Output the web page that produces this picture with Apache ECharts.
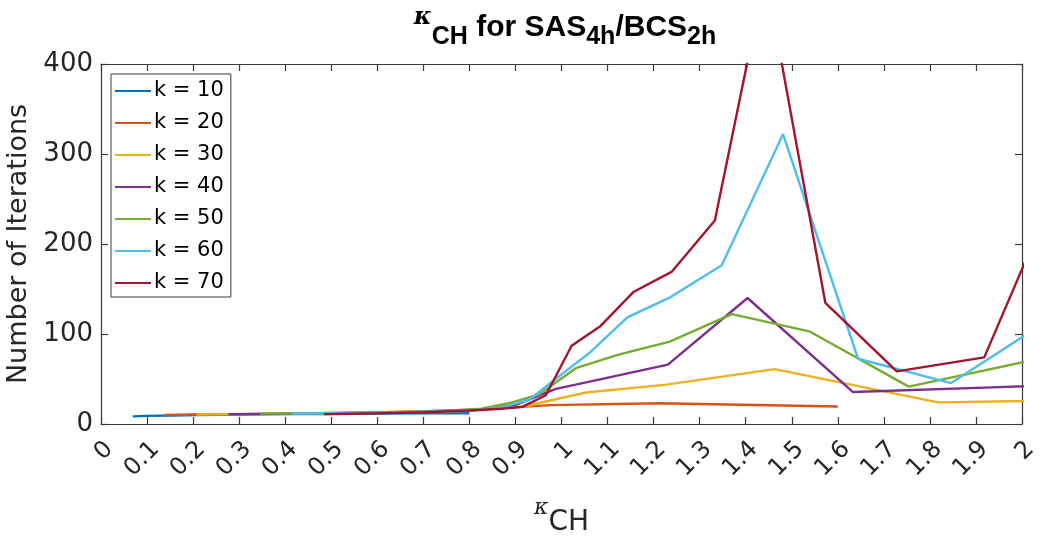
<!DOCTYPE html>
<html>
<head>
<meta charset="utf-8">
<script src="https://cdn.jsdelivr.net/npm/echarts@6/dist/echarts.min.js"></script>
<style>
  html, body { margin: 0; padding: 0; background: #ffffff; }
  #chart { width: 1043px; height: 536px; }
</style>
</head>
<body>
<div id="chart"></div>
<script>
// Iteration counts against kappa_CH, one line per k.
const seriesNames = ['k = 10', 'k = 20', 'k = 30', 'k = 40', 'k = 50', 'k = 60', 'k = 70'];

const x10 = [0.069, 0.099, 0.155, 0.206, 0.308, 0.408, 0.488, 0.606, 0.700, 0.800];
const y10 = [8.5, 9, 9.5, 10, 10.5, 11, 11, 11.5, 11.8, 12];

const x20 = [0.138, 0.200, 0.300, 0.400, 0.494, 0.615, 0.702, 0.816, 0.976, 1.212, 1.600];
const y20 = [10, 10.5, 11, 11.5, 12, 13, 14, 16, 21, 23, 19.5];

const x30 = [0.208, 0.300, 0.400, 0.496, 0.619, 0.741, 0.822, 0.923, 1.053, 1.224, 1.463, 1.818, 2.400];
const y30 = [10.5, 11, 11.5, 12, 13, 14, 15.5, 20, 35, 43.5, 61, 24, 29];

const x40 = [0.277, 0.350, 0.450, 0.552, 0.661, 0.762, 0.825, 0.899, 0.988, 1.096, 1.231, 1.404, 1.633, 1.951, 2.424];
const y40 = [11, 11.3, 11.7, 12.3, 13, 14.5, 16, 21, 39, 51, 66, 140, 35.5, 41, 49];

const x50 = [0.346, 0.450, 0.550, 0.621, 0.690, 0.775, 0.826, 0.885, 0.952, 1.031, 1.124, 1.235, 1.370, 1.538, 1.754, 2.041];
const y50 = [11.5, 12, 12.5, 13, 14, 15.5, 17, 23, 33, 62, 77, 91.5, 122, 103, 41.5, 73];

const x60 = [0.415, 0.500, 0.600, 0.700, 0.784, 0.828, 0.876, 0.930, 0.992, 1.062, 1.143, 1.237, 1.348, 1.481, 1.644, 1.846, 2.105];
const y60 = [11.5, 12, 12.5, 13.5, 14.5, 16, 19, 27, 52, 79.5, 118.5, 141, 176.5, 322, 72.5, 45.5, 131];

const x70 = [0.484, 0.600, 0.700, 0.800, 0.870, 0.915, 0.966, 1.022, 1.085, 1.157, 1.239, 1.333, 1.443, 1.573, 1.728, 1.918, 2.188];
const y70 = [11, 12, 13, 15, 17, 19, 32, 87, 109, 147, 169, 226, 500, 134.5, 58.5, 74, 397];

const xs = [x10, x20, x30, x40, x50, x60, x70];
const ys = [y10, y20, y30, y40, y50, y60, y70];

// MATLAB default line colour order
const lineColors = ['#0072BD', '#D95319', '#EDB120', '#7E2F8E', '#77AC30', '#4DBEEE', '#A2142F'];

const axisColor = '#262626';
const frameColor = '#3a3a3a';
const tickFont = 'DejaVu Sans';

const chart = echarts.init(document.getElementById('chart'), null, { renderer: 'canvas' });

const series = seriesNames.map((name, i) => ({
  name: name,
  type: 'line',
  data: xs[i].map((v, j) => [v, ys[i][j]]),
  showSymbol: false,
  symbol: 'none',
  clip: true,
  lineStyle: { width: 2.4, color: lineColors[i] },
  itemStyle: { color: lineColors[i] },
  emphasis: { disabled: true },
  animation: false
}));

const fmtX = v => String(Math.round(v * 10) / 10);

const frameAxisLine = { show: true, onZero: false, lineStyle: { color: frameColor, width: 1.2 } };
const frameTicks = { show: true, inside: true, length: 7, lineStyle: { color: frameColor, width: 1.2 } };

chart.setOption({
  animation: false,
  title: {
    text: '{k|κ}{s|CH}{m| for SAS}{s|4h}{m|/BCS}{s|2h}',
    left: 560,
    top: 1,
    textAlign: 'center',
    textStyle: {
      rich: {
        k: { fontFamily: 'DejaVu Serif', fontStyle: 'italic', fontSize: 24, color: '#000', lineHeight: 34, verticalAlign: 'top' },
        m: { fontFamily: 'Liberation Sans', fontWeight: 'bold', fontSize: 30, color: '#000', lineHeight: 44, verticalAlign: 'middle' },
        s: { fontFamily: 'Liberation Sans', fontWeight: 'bold', fontSize: 25, color: '#000', lineHeight: 25, verticalAlign: 'bottom' }
      }
    }
  },
  legend: {
    orient: 'vertical',
    left: 111,
    top: 74,
    data: seriesNames,
    icon: 'rect',
    itemWidth: 36,
    itemHeight: 2,
    itemGap: 10,
    padding: [6, 7, 3, 4],
    backgroundColor: '#ffffff',
    borderColor: frameColor,
    borderWidth: 1,
    borderRadius: 0,
    textStyle: { fontFamily: tickFont, fontSize: 21, color: '#000', padding: [0, 0, 0, -2], lineHeight: 22 }
  },
  grid: { left: 101, top: 64, width: 921, height: 360, containLabel: false, outerBoundsMode: 'none' },
  xAxis: [
    {
      type: 'value', min: 0, max: 2, interval: 0.1,
      name: '{k|κ}{s|CH}',
      nameLocation: 'middle',
      nameGap: 73,
      nameTextStyle: {
        rich: {
          k: { fontFamily: 'DejaVu Serif', fontStyle: 'italic', fontSize: 22, color: axisColor, lineHeight: 22, verticalAlign: 'top' },
          s: { fontFamily: tickFont, fontSize: 28, color: axisColor, lineHeight: 40, verticalAlign: 'bottom' }
        }
      },
      axisLine: frameAxisLine,
      axisTick: frameTicks,
      axisLabel: { rotate: 45, margin: 30, padding: [0, -12, 0, 0], fontFamily: tickFont, fontSize: 24, color: axisColor, formatter: fmtX },
      splitLine: { show: false }
    },
    {
      type: 'value', min: 0, max: 2, interval: 0.1, position: 'top',
      axisLine: frameAxisLine,
      axisTick: frameTicks,
      axisLabel: { show: false },
      splitLine: { show: false }
    }
  ],
  yAxis: [
    {
      type: 'value', min: 0, max: 400, interval: 100,
      name: 'Number of Iterations',
      nameLocation: 'middle',
      nameGap: 51,
      nameTextStyle: { fontFamily: tickFont, fontSize: 27, color: axisColor },
      axisLine: frameAxisLine,
      axisTick: frameTicks,
      axisLabel: { margin: 8, fontFamily: tickFont, fontSize: 26, color: axisColor },
      splitLine: { show: false }
    },
    {
      type: 'value', min: 0, max: 400, interval: 100, position: 'right',
      axisLine: frameAxisLine,
      axisTick: frameTicks,
      axisLabel: { show: false },
      splitLine: { show: false }
    }
  ],
  series: series
});
</script>
</body>
</html>
